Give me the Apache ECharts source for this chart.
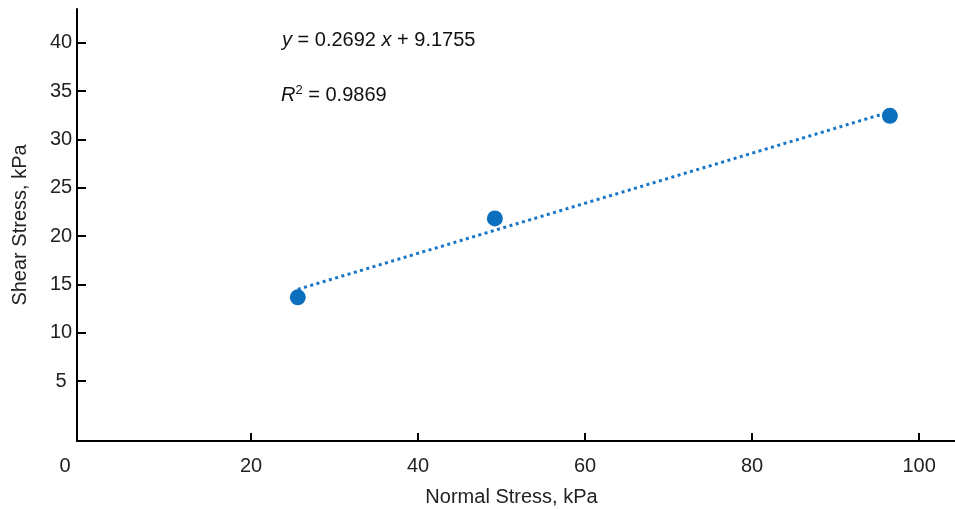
<!DOCTYPE html>
<html>
<head>
<meta charset="utf-8">
<script src="https://cdn.jsdelivr.net/npm/echarts@6/dist/echarts.min.js"></script>
<style>
  html, body { margin: 0; padding: 0; background: #fff; }
  #chart { width: 955px; height: 509px; }
</style>
</head>
<body>
<div id="chart"></div>
<script>
// Direct shear test results: normal stress vs. peak shear stress (kPa)
const normalStress = [25.6, 49.2, 96.5];
const shearStress = [13.66, 21.83, 32.44];

// Axis ticks and labels
const xTickValues = [20, 40, 60, 80, 100];
const xLabelValues = [0, 20, 40, 60, 80, 100];
const yTickValues = [5, 10, 15, 20, 25, 30, 35, 40];

// Trendline annotation text
const equationText = '{i|y} = 0.2692 {i|x} + 9.1755';
const r2Text = '{i|R}{sup|2} = 0.9869';

// Least-squares linear fit over the measured points
function linearFit(xs, ys) {
  const n = xs.length;
  const mx = xs.reduce((a, b) => a + b, 0) / n;
  const my = ys.reduce((a, b) => a + b, 0) / n;
  let sxy = 0, sxx = 0;
  for (let i = 0; i < n; i++) {
    sxy += (xs[i] - mx) * (ys[i] - my);
    sxx += (xs[i] - mx) * (xs[i] - mx);
  }
  const slope = sxy / sxx;
  return { slope: slope, intercept: my - slope * mx };
}

const fit = linearFit(normalStress, shearStress);
const xLo = Math.min.apply(null, normalStress);
const xHi = Math.max.apply(null, normalStress);
const trendData = [
  [xLo, fit.slope * xLo + fit.intercept],
  [xHi, fit.slope * xHi + fit.intercept]
];

const FONT = 'Liberation Sans, Arial, sans-serif';
const BLUE = '#0b6fbd';
const FS = 20;

const chart = echarts.init(document.getElementById('chart'), null, { renderer: 'canvas' });
chart.setOption({
  animation: false,
  backgroundColor: '#ffffff',
  grid: { left: 77, right: 0, top: 9, bottom: 68, containLabel: false, outerBoundsMode: 'none' },
  xAxis: {
    type: 'value',
    min: -0.84,
    max: 104.3,
    name: 'Normal Stress, kPa',
    nameLocation: 'middle',
    nameGap: 46,
    nameTextStyle: { fontFamily: FONT, fontSize: 20, color: '#222', padding: [0, 9, 0, 0] },
    axisLine: { show: true, onZero: false, lineStyle: { color: '#000', width: 2 } },
    axisTick: { show: true, inside: true, length: 8, customValues: xTickValues, lineStyle: { color: '#000', width: 2 } },
    axisLabel: {
      customValues: xLabelValues,
      fontFamily: FONT, fontSize: FS, color: '#222', margin: 15,
      formatter: function (v) { return v === 0 ? '{z|0}' : String(v); },
      rich: { z: { fontFamily: FONT, fontSize: FS, color: '#222', padding: [0, 38, 0, 0] } }
    },
    splitLine: { show: false }
  },
  yAxis: {
    type: 'value',
    min: -1.21,
    max: 43.5,
    name: 'Shear Stress, kPa',
    nameLocation: 'middle',
    nameGap: 47,
    nameTextStyle: { fontFamily: FONT, fontSize: 20, color: '#222' },
    axisLine: { show: true, onZero: false, lineStyle: { color: '#000', width: 2 } },
    axisTick: { show: true, inside: true, length: 9, customValues: yTickValues, lineStyle: { color: '#000', width: 2 } },
    axisLabel: {
      customValues: yTickValues,
      fontFamily: FONT, fontSize: FS, color: '#222', margin: 16, align: 'center'
    },
    splitLine: { show: false }
  },
  graphic: [
    {
      type: 'text', left: 282, top: 30, silent: true,
      style: {
        text: equationText, fontFamily: FONT, fontSize: FS, fill: '#111',
        rich: { i: { fontFamily: FONT, fontSize: FS, fontStyle: 'italic', fill: '#111' } }
      }
    },
    {
      type: 'text', left: 281, top: 84, silent: true,
      style: {
        text: r2Text, fontFamily: FONT, fontSize: FS, fill: '#111',
        rich: {
          i: { fontFamily: FONT, fontSize: FS, fontStyle: 'italic', fill: '#111' },
          sup: { fontFamily: FONT, fontSize: 13, fill: '#111', verticalAlign: 'top', padding: [0, 0, 9, 0] }
        }
      }
    }
  ],
  series: [
    {
      name: 'Trendline',
      type: 'line',
      data: trendData,
      symbol: 'none',
      z: 1,
      lineStyle: { color: '#1976c6', width: 3, type: [3, 3.5], cap: 'butt' }
    },
    {
      name: 'Shear strength',
      type: 'scatter',
      data: normalStress.map((x, i) => [x, shearStress[i]]),
      symbol: 'circle',
      symbolSize: 16,
      z: 2,
      itemStyle: { color: BLUE, opacity: 1 }
    }
  ]
});
</script>
</body>
</html>
